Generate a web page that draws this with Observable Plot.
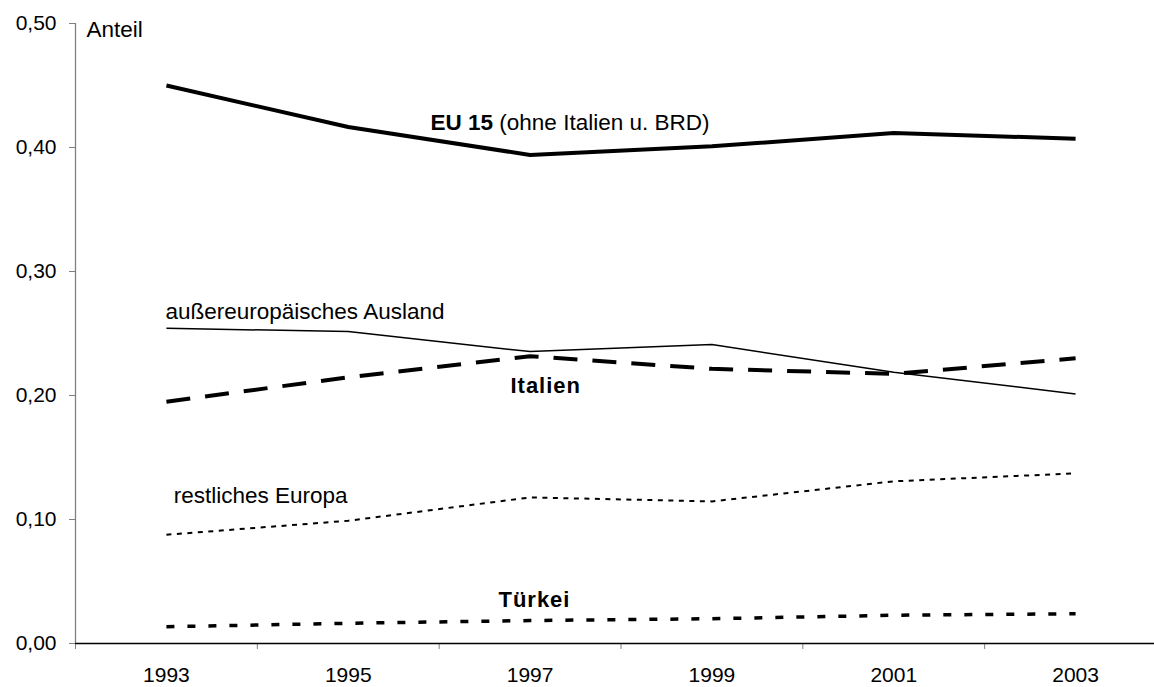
<!DOCTYPE html>
<html>
<head>
<meta charset="utf-8">
<script src="https://cdn.jsdelivr.net/npm/d3@7"></script>
<script src="https://cdn.jsdelivr.net/npm/@observablehq/plot@0.6"></script>
<style>
  html, body { margin: 0; padding: 0; background: white; }
  #chart { width: 1154px; height: 687px; overflow: hidden; }
</style>
</head>
<body>
<div id="chart"></div>
<script>
// ---- data ----
const years = [1993, 1995, 1997, 1999, 2001, 2003];
const eu15 = [0.450, 0.4165, 0.394, 0.401, 0.4116, 0.4071];
const ausland = [0.2542, 0.2516, 0.2354, 0.2411, 0.2187, 0.2013];
const italien = [0.195, 0.2147, 0.2317, 0.2215, 0.2174, 0.230];
const europa = [0.0877, 0.099, 0.1178, 0.1146, 0.1308, 0.1372];
const tuerkei = [0.0135, 0.0163, 0.0185, 0.020, 0.0228, 0.024];

const yTicks = [0, 0.1, 0.2, 0.3, 0.4, 0.5];
const xTickMarks = [1992, 1994, 1996, 1998, 2000, 2002, 2004];
const xLabelYears = [1993, 1995, 1997, 1999, 2001, 2003];

const labelAnteil = "Anteil";
const labelEU = "EU 15 (ohne Italien u. BRD)";
const labelAusland = "außereuropäisches Ausland";
const labelItalien = "Italien";
const labelEuropa = "restliches Europa";
const labelTuerkei = "Türkei";

// ---- helpers ----
const rows = (vals) => years.map((yr, i) => ({year: yr, value: vals[i]}));
const fmt = d => d.toFixed(2).replace(".", ",");
const font = "'Liberation Sans', Arial, Helvetica, sans-serif";

const chart = Plot.plot({
  width: 1154,
  height: 687,
  marginLeft: 75,
  marginRight: 0,
  marginTop: 23,
  marginBottom: 44,
  style: {fontFamily: font, fontSize: "21px", color: "black", background: "white"},
  x: {type: "linear", domain: [1992, 2004], range: [75, 1166], label: null},
  y: {domain: [0, 0.5], label: null},
  marks: [
    Plot.ruleX([1992], {stroke: "#808080", strokeWidth: 1.3}),
    Plot.axisY({ticks: yTicks, tickFormat: fmt, tickSize: 6, tickPadding: 13, stroke: "#808080", fill: "black", label: null}),
    Plot.axisX({ticks: xTickMarks, tickSize: 6, tickFormat: () => "", stroke: "#808080", label: null}),
    Plot.axisX({ticks: xLabelYears, tickSize: 0, tickPadding: 24, tickFormat: d => String(d), fill: "black", label: null}),
    Plot.ruleY([0], {stroke: "black", strokeWidth: 1.3}),

    Plot.line(rows(eu15), {x: "year", y: "value", stroke: "black", strokeWidth: 4, strokeLinecap: "butt"}),
    Plot.line(rows(ausland), {x: "year", y: "value", stroke: "black", strokeWidth: 1.5, strokeLinecap: "butt"}),
    Plot.line(rows(italien), {x: "year", y: "value", stroke: "black", strokeWidth: 4, strokeDasharray: "24,15", strokeLinecap: "butt"}),
    Plot.line(rows(europa), {x: "year", y: "value", stroke: "black", strokeWidth: 2, strokeDasharray: "5,5.5", strokeLinecap: "butt"}),
    Plot.line(rows(tuerkei), {x: "year", y: "value", stroke: "black", strokeWidth: 3.5, strokeDasharray: "8,13", strokeLinecap: "butt"}),

    Plot.text([labelAnteil], {x: () => 1992.121, y: () => 0.4949, text: d => d, textAnchor: "start", fontSize: 22.5, fill: "black"}),
    Plot.text([labelEU], {x: () => 1995.905, y: () => 0.4203, text: d => d, textAnchor: "start", fontSize: 22.5, fill: "black"}),
    Plot.text([labelAusland], {x: () => 1992.99, y: () => 0.2677, text: d => d, textAnchor: "start", fontSize: 22.5, fill: "black"}),
    Plot.text([labelItalien], {x: () => 1996.784, y: () => 0.2073, text: d => d, textAnchor: "start", fontSize: 22, fontWeight: "bold", fill: "black", className: "spaced"}),
    Plot.text([labelEuropa], {x: () => 1993.081, y: () => 0.1192, text: d => d, textAnchor: "start", fontSize: 22.5, fill: "black"}),
    Plot.text([labelTuerkei], {x: () => 1996.652, y: () => 0.0353, text: d => d, textAnchor: "start", fontSize: 22, fontWeight: "bold", fill: "black", className: "spaced"})
  ]
});

document.getElementById("chart").appendChild(chart);

// tick label font size
d3.select(chart).selectAll('g[aria-label$="tick label"]').attr("font-size", 21)
  .selectAll("text").style("font-size", "21px");

// mixed-weight EU label
d3.select(chart).selectAll("text").each(function() {
  if (this.textContent === labelEU) {
    const t = d3.select(this);
    t.text(null);
    t.append("tspan").attr("font-weight", "bold").text("EU 15");
    t.append("tspan").text(" (ohne Italien u. BRD)");
  }
});
d3.select(chart).selectAll(".spaced text").attr("letter-spacing", "1px");
</script>
</body>
</html>
